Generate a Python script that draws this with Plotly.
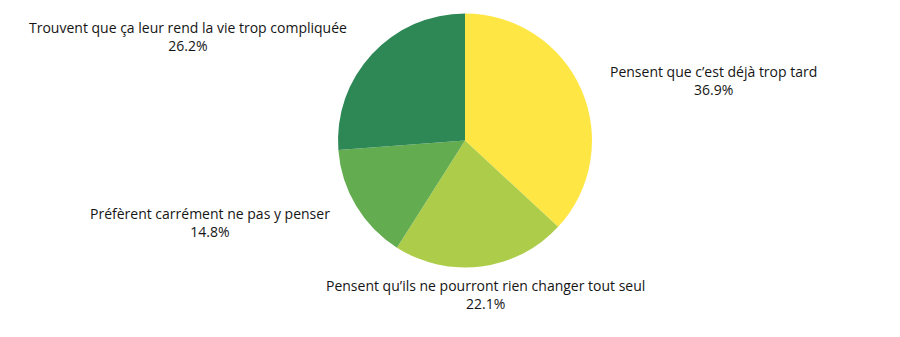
import plotly.graph_objects as go

labels = [
    "Pensent que c’est déjà trop tard",
    "Pensent qu’ils ne pourront rien changer tout seul",
    "Préfèrent carrément ne pas y penser",
    "Trouvent que ça leur rend la vie trop compliquée",
]
values = [36.9, 22.1, 14.8, 26.2]
colors = ["#fee745", "#adcd4a", "#63ac4f", "#2d8856"]

# label anchor positions (pixels from top-left) — layout only
label_pos = [(713, 80), (485, 294), (210, 222), (188, 36)]

W, H = 900, 337
cx, cy, r = 465, 140.5, 127

fig = go.Figure(go.Pie(
    labels=labels,
    values=values,
    sort=False,
    direction="clockwise",
    rotation=0,
    marker=dict(colors=colors, line=dict(width=0)),
    textinfo="none",
    hoverinfo="label+percent",
    showlegend=False,
    domain=dict(x=[(cx - r) / W, (cx + r) / W], y=[1 - (cy + r) / H, 1 - (cy - r) / H]),
))

for lab, val, (px, py) in zip(labels, values, label_pos):
    fig.add_annotation(
        x=px / W, y=1 - py / H, xref="paper", yref="paper",
        text=f"{lab}<br>{val:.1f}%", showarrow=False, align="center",
        xanchor="center", yanchor="middle",
        font=dict(family="Open Sans", size=14, color="#151515"),
    )

fig.update_layout(
    width=W, height=H,
    margin=dict(l=0, r=0, t=0, b=0),
    paper_bgcolor="white", plot_bgcolor="white",
)
fig.write_html("out.html")
